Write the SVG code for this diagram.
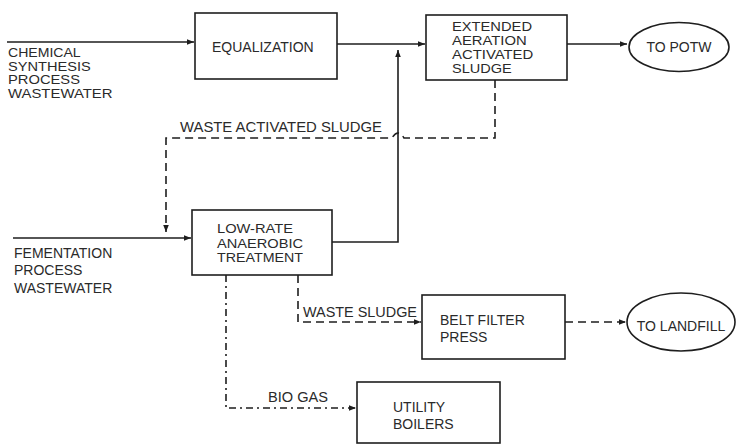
<svg xmlns="http://www.w3.org/2000/svg" width="736" height="445" viewBox="0 0 736 445">
<defs>
<style>
text{font-family:"Liberation Sans",Arial,sans-serif;font-size:14px;fill:#2a2a2a}
text.t{font-size:12.2px}
.box{fill:#fff;stroke:#1e1e1e;stroke-width:1.6}
.ln{fill:none;stroke:#1e1e1e;stroke-width:1.6}
.dash{stroke-dasharray:8 5}
.dd{stroke-dasharray:7 4 2 4}
</style>
<marker id="ah" viewBox="0 0 10 10" refX="10" refY="5" markerWidth="7" markerHeight="7" markerUnits="userSpaceOnUse" orient="auto">
<path d="M0,1 L10,5 L0,9 Z" fill="#1e1e1e"/>
</marker>
</defs>
<g id="connectors">
<line class="ln" x1="7" y1="42" x2="194" y2="42" marker-end="url(#ah)"/>
<line class="ln" x1="337" y1="44" x2="425" y2="44" marker-end="url(#ah)"/>
<line class="ln" x1="567" y1="44" x2="627" y2="44" marker-end="url(#ah)"/>
<path class="ln" d="M332,242 H398 V50" marker-end="url(#ah)"/>
<path class="ln dash" d="M495,80 V138 H404 Q398,128 392,138 H166 V232" marker-end="url(#ah)"/>
<line class="ln" x1="13" y1="238" x2="191" y2="238" marker-end="url(#ah)"/>
<path class="ln dash" d="M298,275 V322 H421" marker-end="url(#ah)"/>
<line class="ln dash" x1="565" y1="322" x2="626" y2="322" marker-end="url(#ah)"/>
<path class="ln dd" d="M226,275 V408 H356" marker-end="url(#ah)"/>
</g>
<g id="chem-label">
<text class="t" x="8" y="57" textLength="72.7" lengthAdjust="spacingAndGlyphs">CHEMICAL</text>
<text class="t" x="8" y="70.5" textLength="82.7" lengthAdjust="spacingAndGlyphs">SYNTHESIS</text>
<text class="t" x="8" y="84" textLength="72" lengthAdjust="spacingAndGlyphs">PROCESS</text>
<text class="t" x="8" y="97.5" textLength="104.5" lengthAdjust="spacingAndGlyphs">WASTEWATER</text>
</g>
<g id="ferm-label">
<text x="14" y="257.5">FEMENTATION</text>
<text x="14" y="275">PROCESS</text>
<text x="14" y="292.5">WASTEWATER</text>
</g>
<g id="equalization">
<rect class="box" x="195" y="13" width="142" height="66"/>
<text x="212" y="52">EQUALIZATION</text>
</g>
<g id="extended-aeration">
<rect class="box" x="426" y="15" width="141" height="65"/>
<text class="t" x="452" y="31" textLength="80" lengthAdjust="spacingAndGlyphs">EXTENDED</text>
<text class="t" x="452" y="44.5" textLength="74.7" lengthAdjust="spacingAndGlyphs">AERATION</text>
<text class="t" x="452" y="58.5" textLength="81.3" lengthAdjust="spacingAndGlyphs">ACTIVATED</text>
<text class="t" x="452" y="72.5" textLength="59.7" lengthAdjust="spacingAndGlyphs">SLUDGE</text>
</g>
<g id="to-potw">
<ellipse class="box" cx="679" cy="47" rx="50" ry="24.5"/>
<text x="679" y="52" text-anchor="middle">TO POTW</text>
</g>
<g id="low-rate">
<rect class="box" x="192" y="210" width="140" height="65"/>
<text class="t" x="217" y="233" textLength="76" lengthAdjust="spacingAndGlyphs">LOW-RATE</text>
<text class="t" x="217" y="247.5" textLength="86" lengthAdjust="spacingAndGlyphs">ANAEROBIC</text>
<text class="t" x="217" y="261.5" textLength="86" lengthAdjust="spacingAndGlyphs">TREATMENT</text>
</g>
<g id="belt-filter">
<rect class="box" x="422" y="295" width="143" height="64"/>
<text x="440" y="325">BELT FILTER</text>
<text x="440" y="341.5">PRESS</text>
</g>
<g id="to-landfill">
<ellipse class="box" cx="681" cy="322" rx="54" ry="29"/>
<text x="681" y="331" text-anchor="middle">TO LANDFILL</text>
</g>
<g id="utility-boilers">
<rect class="box" x="357" y="382" width="143" height="61"/>
<text x="393" y="411.5">UTILITY</text>
<text x="393" y="429">BOILERS</text>
</g>
<g id="labels">
<text x="180" y="132" textLength="202" lengthAdjust="spacingAndGlyphs">WASTE ACTIVATED SLUDGE</text>
<text x="303" y="316.5" textLength="114" lengthAdjust="spacingAndGlyphs">WASTE SLUDGE</text>
<text x="268" y="401.5" textLength="60" lengthAdjust="spacingAndGlyphs">BIO GAS</text>
</g>
</svg>
